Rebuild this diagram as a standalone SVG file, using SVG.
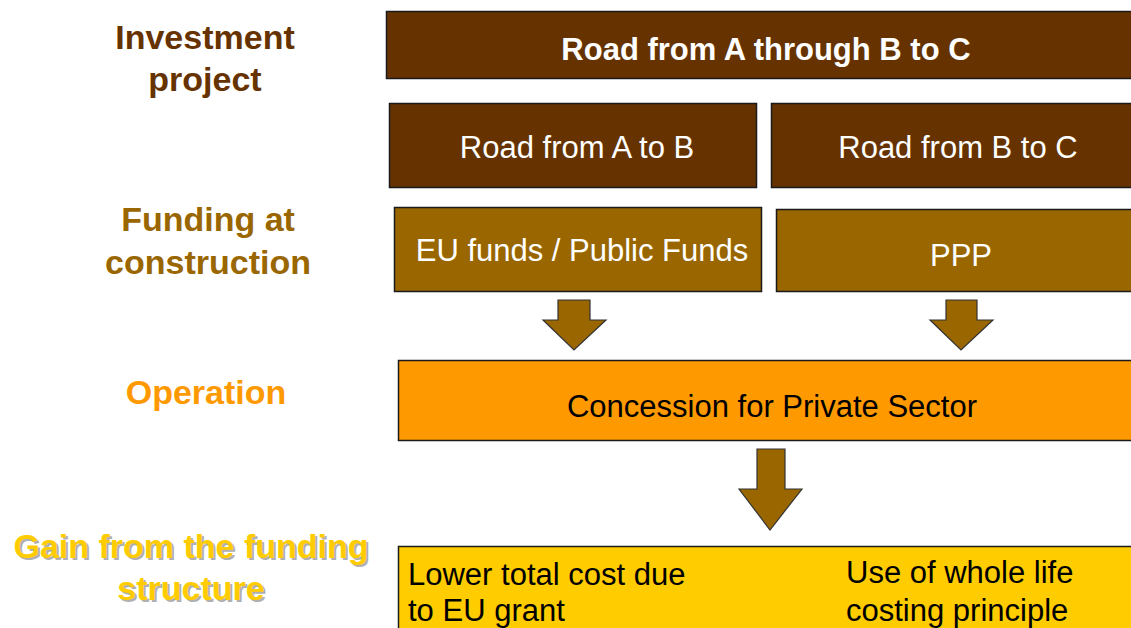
<svg xmlns="http://www.w3.org/2000/svg" width="1131" height="628" viewBox="0 0 1131 628">
<style>
.box{stroke:#1a1a1a;stroke-width:1.5}
.dk{fill:#663300}
.md{fill:#996600}
.bt{font-family:"Liberation Sans",Arial,sans-serif;font-size:31px;text-anchor:middle;fill:#ffffff}
.bl{font-family:"Liberation Sans",Arial,sans-serif;font-size:31px;fill:#000000}
.lab{font-family:"Liberation Sans",Arial,sans-serif;font-size:34px;font-weight:bold;text-anchor:middle}
.arr{fill:#996600;stroke:#333333;stroke-width:1.2}
</style>
<rect width="1131" height="628" fill="#ffffff"/>
<g id="label-investment">
<text class="lab" x="205" y="49" fill="#663300">Investment</text>
<text class="lab" x="205" y="91" fill="#663300">project</text>
</g>
<g id="label-funding">
<text class="lab" x="208" y="231" fill="#996600">Funding at</text>
<text class="lab" x="208" y="274" fill="#996600">construction</text>
</g>
<g id="label-operation">
<text class="lab" x="206" y="404" fill="#FF9900">Operation</text>
</g>
<g id="label-gain">
<text class="lab" x="193" y="560" fill="#b0b0b0">Gain from the funding</text>
<text class="lab" x="193" y="602" fill="#b0b0b0">structure</text>
<text class="lab" x="191" y="558" fill="#FFCC00">Gain from the funding</text>
<text class="lab" x="191" y="600" fill="#FFCC00">structure</text>
</g>
<g id="node-road-abc">
<rect class="box dk" x="386.5" y="11.5" width="750" height="67"/>
<text class="bt" x="766" y="60" font-weight="bold">Road from A through B to C</text>
</g>
<g id="node-road-ab">
<rect class="box dk" x="389.5" y="103.5" width="367" height="84"/>
<text class="bt" x="577" y="158">Road from A to B</text>
</g>
<g id="node-road-bc">
<rect class="box dk" x="771.5" y="103.5" width="365" height="84"/>
<text class="bt" x="958" y="158">Road from B to C</text>
</g>
<g id="node-eu-funds">
<rect class="box md" x="394.5" y="207.5" width="367" height="84"/>
<text class="bt" x="582" y="261">EU funds / Public Funds</text>
</g>
<g id="node-ppp">
<rect class="box md" x="776.5" y="209.5" width="360" height="82"/>
<text class="bt" x="961" y="266">PPP</text>
</g>
<g id="node-concession">
<rect class="box" fill="#FF9900" x="398.5" y="360.5" width="738" height="80"/>
<text class="bl" x="772" y="417" text-anchor="middle">Concession for Private Sector</text>
</g>
<g id="node-gain">
<rect class="box" fill="#FFCC00" x="398.5" y="546.5" width="738" height="90"/>
<text class="bl" x="408" y="585">Lower total cost due</text>
<text class="bl" x="408" y="621">to EU grant</text>
<text class="bl" x="846" y="583">Use of whole life</text>
<text class="bl" x="846" y="621">costing principle</text>
</g>
<g id="connectors">
<polygon class="arr" points="558,300 590,300 590,320 606,320 574,350 543,320 558,320"/>
<polygon class="arr" points="946,300 977,300 977,320 993,320 961,350 930,320 946,320"/>
<polygon class="arr" points="757,449 785,449 785,489 802,489 770,530 739,489 757,489"/>
</g>
</svg>
